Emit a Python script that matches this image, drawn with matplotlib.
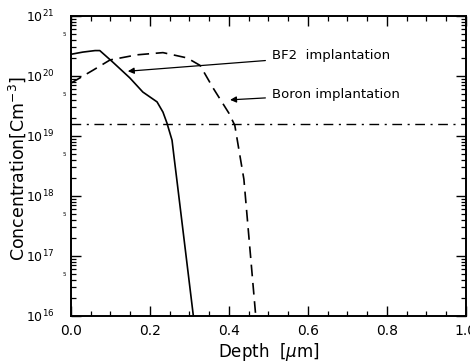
import matplotlib
matplotlib.use("Agg")
import matplotlib.pyplot as plt
import numpy as np
from matplotlib.ticker import LogLocator, MultipleLocator, NullFormatter

plt.rcParams['font.family'] = ['DejaVu Sans']
plt.rcParams['mathtext.fontset'] = 'dejavusans'

# BF2 implantation (solid)
bf2_depth = [0.0, 0.03, 0.061, 0.073, 0.106, 0.149, 0.182, 0.218, 0.233, 0.243, 0.256, 0.261, 0.268, 0.31]
bf2_conc = [2.3e20, 2.5e20, 2.65e20, 2.65e20, 1.7e20, 9.3e19, 5.4e19, 3.7e19, 2.5e19, 1.65e19, 8.5e18, 4.5e18, 1.9e18, 1.0e16]

# Boron implantation (dashed)
b_depth = [0.0, 0.056, 0.099, 0.167, 0.233, 0.294, 0.327, 0.36, 0.40, 0.415, 0.438, 0.468]
b_conc = [7.6e19, 1.25e20, 1.85e20, 2.25e20, 2.45e20, 2.0e20, 1.5e20, 6.3e19, 2.4e19, 1.5e19, 1.9e18, 1.0e16]

# Reference level (dash-dot)
ref_level = 1.6e19

xticks = [0.0, 0.2, 0.4, 0.6, 0.8, 1.0]
xticklabels = ['0.0', '0.2', '0.4', '0.6', '0.8', '1.0']

fig = plt.figure(figsize=(4.7, 3.63), dpi=100)
ax = fig.add_axes([0.151, 0.1295, 0.840, 0.8265])

ax.plot(bf2_depth, bf2_conc, color='black', lw=1.2, ls='-')
ax.plot(b_depth, b_conc, color='black', lw=1.2, ls=(0, (7, 4)))
ax.axhline(ref_level, color='black', lw=1.0, ls=(0, (7, 4, 1.5, 4)))

ax.set_yscale('log')
ax.set_xlim(0, 1.0)
ax.set_ylim(1e16, 1e21)
ax.set_xticks(xticks)
ax.set_xticklabels(xticklabels)
ax.xaxis.set_minor_locator(MultipleLocator(0.05))
ax.yaxis.set_major_locator(LogLocator(base=10, numticks=10))
ax.yaxis.set_minor_locator(LogLocator(base=10, subs=np.arange(2, 10), numticks=10))
ax.yaxis.set_minor_formatter(NullFormatter())
ax.tick_params(which='both', direction='in', top=True, right=True)
ax.tick_params(axis='x', which='major', pad=6, labelsize=10)
ax.tick_params(axis='y', which='major', pad=12, labelsize=9)
ax.tick_params(which='major', length=7, width=1.0)
ax.tick_params(which='minor', length=3.5, width=0.9)
for s in ax.spines.values():
    s.set_linewidth(1.4)

# small "5" marks at 5x10^n
for e in range(16, 21):
    ax.text(-0.018, 5 * 10**e, '5', fontsize=4, ha='center', va='center',
            transform=ax.get_yaxis_transform())

ax.set_xlabel(r'Depth  [$\mu$m]', fontsize=12, labelpad=2)
ax.set_ylabel(r'Concentration[Cm$^{-3}$]', fontsize=12.5)
ax.yaxis.set_label_coords(-0.108, 0.49)

ax.annotate('BF2  implantation', xy=(0.144, 1.2e20), xytext=(0.51, 2.2e20),
            fontsize=9.5, va='center', ha='left',
            arrowprops=dict(arrowstyle='-|>', color='black', lw=0.9, shrinkA=3, shrinkB=0,
                            mutation_scale=9))
ax.annotate('Boron implantation', xy=(0.403, 4.0e19), xytext=(0.51, 5.0e19),
            fontsize=9.5, va='center', ha='left',
            arrowprops=dict(arrowstyle='-|>', color='black', lw=0.9, shrinkA=3, shrinkB=0,
                            mutation_scale=9))

fig.savefig('out.png', dpi=100)
